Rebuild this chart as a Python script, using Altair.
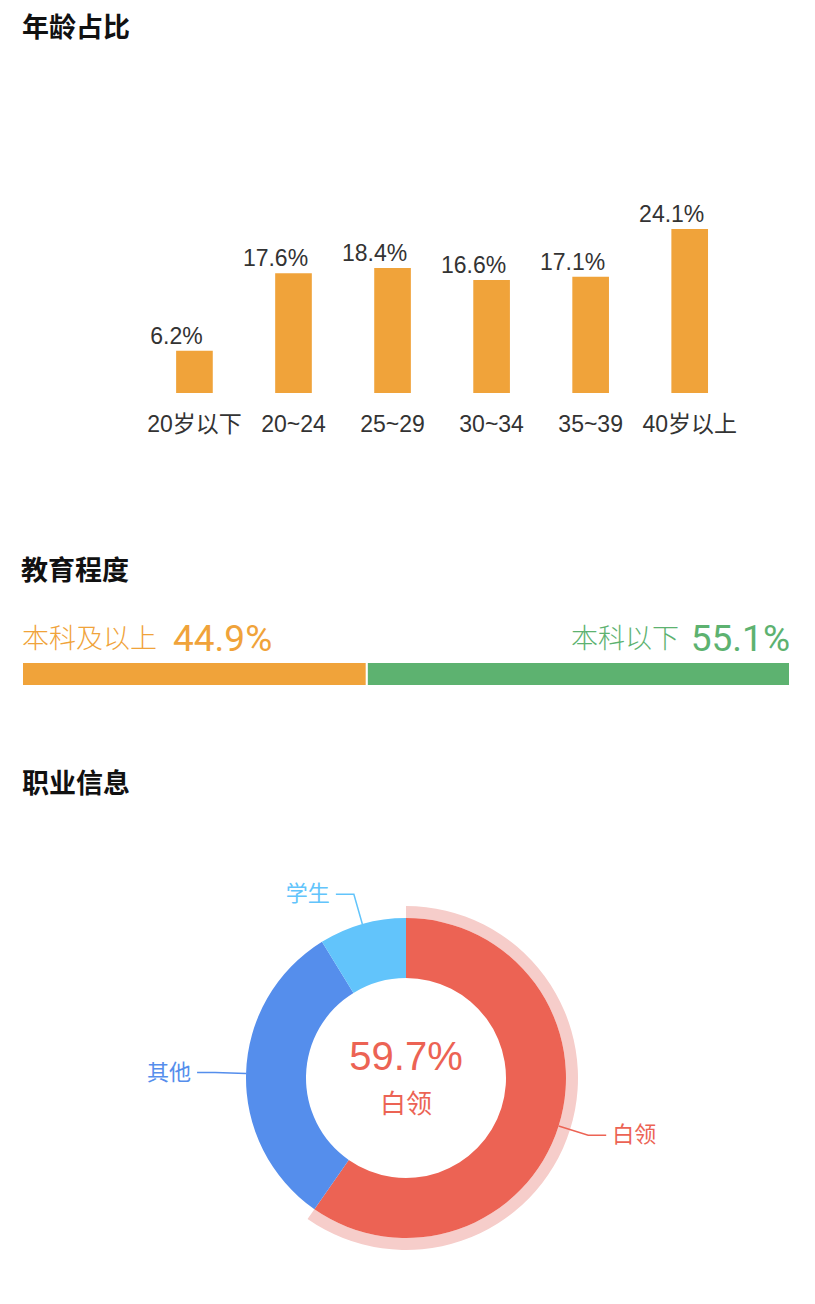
import math
import pandas as pd
import altair as alt

FONT = "'Liberation Sans', 'Noto Sans CJK SC', sans-serif"
PCT_FONT = "Roboto, 'Liberation Sans', sans-serif"

# 年龄占比
AGE_GROUPS = ["20岁以下", "20~24", "25~29", "30~34", "35~39", "40岁以上"]
AGE_SHARES = [6.2, 17.6, 18.4, 16.6, 17.1, 24.1]

# 教育程度
EDU_LABELS = ["本科及以上", "本科以下"]
EDU_SHARES = [44.9, 55.1]
EDU_COLORS = ["#F0A33A", "#5DB270"]

# 职业信息
JOB_LABELS = ["白领", "其他", "学生"]
JOB_SHARES = [59.7, 31.5, 8.8]
JOB_COLORS = ["#EC6354", "#558EEC", "#62C4FB"]

ORANGE = "#F0A33A"
HIGHLIGHT = "#F6CDCA"
TEXT_DARK = "#333333"
TITLE_COLOR = "#111111"

PANEL_WIDTH = 768
DONUT_HEIGHT = 400
R_IN, R_OUT, R_RING = 100, 160, 172
LEAD_R, LEAD_H, LABEL_GAP = 191, 18, 6


def section_title(text, offset):
    return alt.Title(
        text,
        anchor="start",
        font=FONT,
        fontSize=27,
        fontWeight="bold",
        color=TITLE_COLOR,
        offset=offset,
    )


# --- age bars ---
age_df = pd.DataFrame({"group": AGE_GROUPS, "share": AGE_SHARES})
age_df["text"] = age_df["share"].map(lambda v: f"{v:.1f}%")

x_age = alt.X(
    "group:N",
    sort=AGE_GROUPS,
    scale=alt.Scale(paddingInner=0.63, paddingOuter=1, align=0.778),
    axis=alt.Axis(
        title=None,
        labelAngle=0,
        domain=False,
        ticks=False,
        tickSize=0,
        labelPadding=20,
        labelFont=FONT,
        labelFontSize=23,
        labelColor=TEXT_DARK,
    ),
)
y_age = alt.Y("share:Q", scale=alt.Scale(domain=[0, 30], nice=False), axis=None)

age_base = alt.Chart(age_df)
age_bars = age_base.mark_bar(color=ORANGE).encode(x=x_age, y=y_age)
# value labels sit centred on the bar's left edge, as in the original
age_text = age_base.mark_text(
    baseline="alphabetic", dx=-18, dy=-7, font=FONT, fontSize=23, color=TEXT_DARK
).encode(x=x_age, y=y_age, text="text:N")
age_chart = alt.layer(age_bars, age_text).properties(
    width=730, height=204, title=section_title("年龄占比", 146)
)

# --- education split bar ---
edu_df = pd.DataFrame({"edu": EDU_LABELS, "share": EDU_SHARES, "idx": [0, 1]})
edu_df["text"] = edu_df["share"].map(lambda v: f"{v:.1f}%")
edu_df["end"] = edu_df["share"].cumsum()
edu_df["start"] = edu_df["end"] - edu_df["share"]

edu_scale = alt.Scale(domain=[0, 100], nice=False)
edu_color = alt.Color(
    "edu:N", scale=alt.Scale(domain=EDU_LABELS, range=EDU_COLORS), legend=None
)
edu_base = alt.Chart(edu_df)
edu_bar = edu_base.mark_bar(size=24, stroke="white", strokeWidth=2).encode(
    x=alt.X("share:Q", stack="zero", scale=edu_scale, axis=None),
    color=edu_color,
    order=alt.Order("idx:Q"),
)
left = edu_base.transform_filter(alt.datum.idx == 0)
right = edu_base.transform_filter(alt.datum.idx == 1)
left_name = left.mark_text(
    align="left", baseline="alphabetic", dy=-26, font=FONT, fontSize=27, fontWeight=300
).encode(x=alt.X("start:Q", scale=edu_scale, axis=None), text="edu:N", color=edu_color)
left_pct = left.mark_text(
    align="left", baseline="alphabetic", dx=151, dy=-23, font=PCT_FONT, fontSize=37
).encode(x=alt.X("start:Q", scale=edu_scale, axis=None), text="text:N", color=edu_color)
right_name = right.mark_text(
    align="right", baseline="alphabetic", dx=-111, dy=-26, font=FONT, fontSize=27, fontWeight=300
).encode(x=alt.X("end:Q", scale=edu_scale, axis=None), text="edu:N", color=edu_color)
right_pct = right.mark_text(
    align="right", baseline="alphabetic", dy=-23, font=PCT_FONT, fontSize=37
).encode(x=alt.X("end:Q", scale=edu_scale, axis=None), text="text:N", color=edu_color)
edu_chart = alt.layer(edu_bar, left_name, left_pct, right_name, right_pct).properties(
    width=PANEL_WIDTH, height=24, title=section_title("教育程度", 35)
)

# --- job donut ---
job_df = pd.DataFrame({"job": JOB_LABELS, "share": JOB_SHARES, "idx": [0, 1, 2]})
job_df["text"] = job_df["share"].map(lambda v: f"{v:.1f}%")

# leader lines: out from the slice middle, then a short horizontal run
line_rows, label_rows = [], []
cum = 0.0
for lab, v in zip(JOB_LABELS, JOB_SHARES):
    mid = (cum + v / 2) / 100 * 2 * math.pi
    cum += v
    sx, cy = math.sin(mid), math.cos(mid)
    side = 1 if sx >= 0 else -1
    pts = [
        (R_OUT * sx, R_OUT * cy),
        (LEAD_R * sx, LEAD_R * cy),
        (LEAD_R * sx + side * LEAD_H, LEAD_R * cy),
    ]
    for k, (px, py) in enumerate(pts):
        line_rows.append({"job": lab, "k": k, "px": px, "py": py})
    label_rows.append(
        {"job": lab, "px": pts[-1][0] + side * LABEL_GAP, "py": pts[-1][1], "side": side}
    )
line_df = pd.DataFrame(line_rows)
label_df = pd.DataFrame(label_rows)

job_color = alt.Color(
    "job:N", scale=alt.Scale(domain=JOB_LABELS, range=JOB_COLORS), legend=None
)
px_scale = alt.Scale(domain=[-PANEL_WIDTH / 2, PANEL_WIDTH / 2], nice=False, zero=False)
py_scale = alt.Scale(domain=[-DONUT_HEIGHT / 2, DONUT_HEIGHT / 2], nice=False, zero=False)
theta = alt.Theta("share:Q", stack=True)

ring = alt.Chart(job_df).mark_arc(innerRadius=R_OUT, outerRadius=R_RING, color=HIGHLIGHT).encode(
    theta=theta,
    order=alt.Order("idx:Q"),
    opacity=alt.condition(alt.datum.idx == 0, alt.value(1), alt.value(0)),
)
donut = alt.Chart(job_df).mark_arc(innerRadius=R_IN, outerRadius=R_OUT).encode(
    theta=theta, order=alt.Order("idx:Q"), color=job_color
)
leaders = alt.Chart(line_df).mark_line(strokeWidth=1.5).encode(
    x=alt.X("px:Q", scale=px_scale, axis=None),
    y=alt.Y("py:Q", scale=py_scale, axis=None),
    detail="job:N",
    order="k:Q",
    color=job_color,
)
labels_l = alt.Chart(label_df).transform_filter(alt.datum.side < 0).mark_text(
    align="right", baseline="middle", font=FONT, fontSize=22
).encode(
    x=alt.X("px:Q", scale=px_scale, axis=None),
    y=alt.Y("py:Q", scale=py_scale, axis=None),
    text="job:N",
    color=job_color,
)
labels_r = alt.Chart(label_df).transform_filter(alt.datum.side > 0).mark_text(
    align="left", baseline="middle", font=FONT, fontSize=22
).encode(
    x=alt.X("px:Q", scale=px_scale, axis=None),
    y=alt.Y("py:Q", scale=py_scale, axis=None),
    text="job:N",
    color=job_color,
)
top_job = alt.Chart(job_df).transform_filter(alt.datum.idx == 0)
center_pct = top_job.mark_text(baseline="middle", dy=-20, font=FONT, fontSize=40).encode(
    x=alt.datum(0), y=alt.datum(0), text="text:N", color=job_color
)
center_name = top_job.mark_text(baseline="middle", dy=27, font=FONT, fontSize=26).encode(
    x=alt.datum(0), y=alt.datum(0), text="job:N", color=job_color
)
job_chart = alt.layer(
    ring, donut, leaders, labels_l, labels_r, center_pct, center_name
).properties(
    width=PANEL_WIDTH, height=DONUT_HEIGHT, title=section_title("职业信息", 79)
)

lower = alt.vconcat(edu_chart, job_chart, spacing=192, bounds="flush").resolve_scale(
    color="independent", x="independent", y="independent"
)
chart = (
    alt.vconcat(age_chart, lower, spacing=269, bounds="flush")
    .resolve_scale(color="independent", x="independent", y="independent")
    .properties(padding={"left": 13, "top": 7, "right": 10, "bottom": 10})
    .configure(font=FONT)
    .configure_view(stroke=None)
)

chart.save("out.html", embed_options={"renderer": "svg", "actions": False})
